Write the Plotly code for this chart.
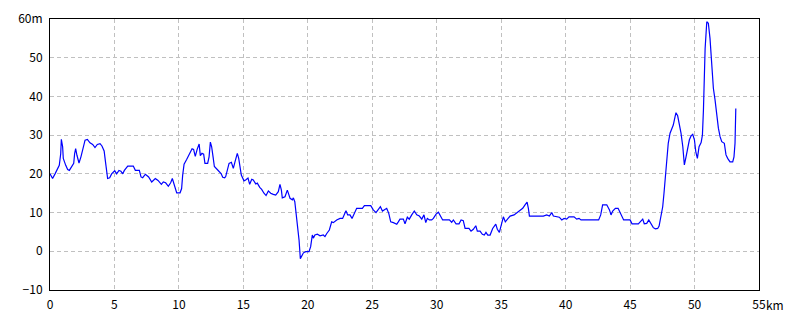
import plotly.graph_objects as go

# Distance (km) and elevation (m)
distance_km = [
    0.0, 0.2, 0.39, 0.65, 0.72, 0.83, 0.88, 0.98, 1.03, 1.22, 1.37, 1.5, 1.68, 1.84, 1.91, 1.99,
    2.09, 2.25, 2.4, 2.59, 2.72, 2.9, 3.1, 3.31, 3.49, 3.67, 3.88, 4.03, 4.2, 4.29, 4.4, 4.47,
    4.63, 4.78, 5.02, 5.17, 5.35, 5.5, 5.64, 5.77, 6.03, 6.46, 6.62, 6.93, 7.06, 7.19, 7.4, 7.65,
    7.89, 8.17, 8.38, 8.64, 8.79, 8.97, 9.18, 9.36, 9.49, 9.62, 9.83, 10.09, 10.21, 10.29, 10.4,
    10.6, 10.81, 11.02, 11.14, 11.27, 11.42, 11.57, 11.66, 11.79, 11.92, 12.02, 12.23, 12.34,
    12.44, 12.54, 12.65, 12.75, 13.01, 13.27, 13.4, 13.55, 13.63, 13.76, 13.89, 14.07, 14.22,
    14.35, 14.53, 14.64, 14.72, 14.84, 15.05, 15.18, 15.36, 15.49, 15.65, 15.77, 15.96, 16.08,
    16.27, 16.42, 16.6, 16.76, 16.94, 17.12, 17.32, 17.51, 17.71, 17.84, 17.95, 18.02, 18.23,
    18.41, 18.54, 18.62, 18.8, 18.88, 18.99, 19.06, 19.19, 19.32, 19.42, 19.53, 19.66, 19.84,
    20.09, 20.22, 20.3, 20.35, 20.43, 20.55, 20.74, 20.95, 21.2, 21.33, 21.47, 21.67, 21.85,
    21.98, 22.24, 22.5, 22.7, 22.81, 22.96, 23.09, 23.27, 23.43, 23.58, 23.79, 24.23, 24.39,
    24.88, 25.08, 25.29, 25.47, 25.63, 25.79, 25.94, 26.12, 26.28, 26.43, 26.64, 26.9, 27.02,
    27.15, 27.41, 27.54, 27.72, 27.87, 28.06, 28.26, 28.45, 28.65, 28.84, 29.01, 29.15, 29.27,
    29.43, 29.61, 29.74, 29.95, 30.13, 30.26, 30.46, 30.98, 31.16, 31.29, 31.5, 31.73, 31.89,
    32.06, 32.2, 32.5, 32.66, 32.84, 33.03, 33.15, 33.36, 33.54, 33.69, 33.82, 33.96, 34.14,
    34.34, 34.58, 34.7, 34.86, 35.04, 35.17, 35.32, 35.48, 35.69, 36.0, 36.21, 36.46, 36.67,
    36.85, 37.01, 37.11, 37.19, 38.27, 38.53, 38.74, 38.92, 39.05, 39.31, 39.51, 39.7, 39.88,
    40.08, 40.26, 40.65, 40.86, 41.04, 41.19, 42.56, 42.72, 42.87, 43.19, 43.4, 43.52, 43.65,
    43.86, 44.07, 44.3, 44.5, 45.0, 45.15, 45.64, 45.85, 45.98, 46.1, 46.29, 46.45, 46.63, 46.8,
    46.96, 47.14, 47.25, 47.39, 47.53, 47.63, 47.76, 47.86, 47.96, 48.1, 48.23, 48.35, 48.49,
    48.56, 48.69, 48.82, 48.95, 49.09, 49.21, 49.34, 49.47, 49.6, 49.73, 49.86, 49.99, 50.1,
    50.22, 50.35, 50.51, 50.61, 50.69, 50.82, 50.95, 51.07, 51.2, 51.33, 51.46, 51.59, 51.72,
    51.85, 51.98, 52.11, 52.31, 52.44, 52.57, 52.75, 52.96, 53.06, 53.14, 53.2,
]
elevation_m = [
    20.0, 18.8, 20.0, 21.8, 22.2, 25.2, 28.9, 27.0, 24.0, 22.2, 21.1, 20.9, 22.0, 22.7, 25.2, 26.5,
    24.8, 22.8, 24.4, 27.0, 28.7, 28.9, 28.0, 27.6, 26.8, 27.6, 27.8, 27.2, 25.9, 23.5, 20.0, 18.8,
    19.0, 20.0, 20.8, 20.0, 20.9, 20.7, 20.0, 20.9, 22.0, 22.0, 20.9, 20.9, 19.2, 19.0, 19.9, 19.2,
    17.9, 18.8, 18.3, 17.3, 17.9, 17.7, 16.8, 17.7, 18.8, 17.1, 15.1, 15.1, 16.2, 19.6, 22.5,
    23.7, 25.2, 26.5, 26.3, 24.5, 26.4, 27.7, 24.7, 25.3, 25.1, 22.7, 22.7, 24.4,
    28.2, 27.0, 24.4, 21.9, 21.0, 20.1, 19.1, 19.0, 19.3, 21.0, 22.7, 23.0, 21.4,
    23.1, 25.3, 24.0, 21.9, 19.7, 18.2, 18.4, 18.9, 17.3, 18.6, 18.4, 17.4, 17.6,
    16.5, 16.0, 15.0, 14.4, 15.6, 15.0, 14.7, 14.5, 15.4, 17.3, 15.8, 13.8, 14.1,
    15.8, 14.5, 13.7, 13.3, 13.8, 12.8, 10.7, 6.4, 2.9, -1.9, -1.0, -0.4, -0.1,
    -0.1, 1.2, 3.5, 4.2, 3.4, 4.2, 4.4, 4.0, 4.2, 3.8, 4.6, 5.5, 7.6,
    7.4, 8.1, 8.5, 8.5, 9.4, 10.5, 9.4, 9.4, 8.5, 9.8, 11.1, 11.1, 11.8,
    11.8, 10.7, 10.0, 10.7, 11.5, 10.4, 10.8, 11.1, 9.8, 7.6, 7.4, 7.0, 7.6,
    8.3, 8.3, 7.1, 8.8, 8.3, 9.4, 10.4, 9.4, 9.1, 8.3, 9.4, 7.4, 8.5,
    8.1, 8.1, 8.5, 9.6, 10.1, 9.4, 8.1, 8.1, 7.5, 8.1, 7.1, 7.1, 8.1,
    7.9, 5.9, 5.9, 5.2, 5.7, 6.6, 5.2, 5.2, 4.4, 4.2, 4.9, 4.2, 4.2,
    5.9, 7.0, 5.7, 4.9, 7.2, 8.9, 7.6, 8.3, 9.1, 9.4, 10.0, 10.7, 11.1,
    12.0, 12.7, 11.1, 9.1, 9.1, 9.4, 9.1, 10.0, 9.1, 8.9, 8.8, 8.1, 8.5,
    8.3, 8.9, 8.9, 8.3, 8.5, 8.1, 8.1, 9.4, 12.0, 12.0, 10.7, 9.4, 10.4,
    11.1, 11.1, 9.4, 8.1, 8.1, 7.1, 7.1, 7.8, 8.3, 7.1, 7.2, 8.1, 7.2, 6.1,
    5.8, 5.9, 6.5, 8.8, 11.5, 15.0, 21.0, 23.6, 27.9, 30.5, 31.8, 32.6, 34.8,
    35.8, 35.0, 33.1, 30.5, 27.0, 22.3, 24.4, 26.6, 28.8, 29.8, 30.2, 28.8, 25.7,
    24.0, 27.0, 28.1, 30.0, 36.5, 52.4, 59.3, 58.9, 55.0, 47.7, 42.1, 39.1, 35.2,
    31.8, 29.6, 28.3, 27.9, 24.9, 24.0, 23.1, 23.1, 24.4, 27.9, 36.9,
]

x_tick_vals = [0, 5, 10, 15, 20, 25, 30, 35, 40, 45, 50, 55]
x_tick_text = ["0", "5", "10", "15", "20", "25", "30", "35", "40", "45", "50", "55"]
y_tick_vals = [-10, 0, 10, 20, 30, 40, 50, 60]
y_tick_text = ["\u221210", "0", "10", "20", "30", "40", "50", "60m"]

FONT = "Noto Sans CJK JP"

fig = go.Figure()
fig.add_trace(go.Scatter(
    x=distance_km, y=elevation_m, mode="lines",
    line=dict(color="#0000ff", width=1.2),
    hoverinfo="skip", showlegend=False,
))

axis_common = dict(
    showgrid=True, gridcolor="#c0c0c0", gridwidth=1, griddash="4px,3px",
    showline=True, linecolor="black", linewidth=1, mirror=True,
    zeroline=False, ticks="outside", ticklen=4, tickcolor="rgba(0,0,0,0)",
    tickfont=dict(family=FONT, size=12, color="black"),
    automargin=False,
)

fig.update_layout(
    template="none",
    width=800, height=320,
    margin=dict(l=50, r=41, t=19, b=30, autoexpand=False),
    paper_bgcolor="white", plot_bgcolor="white",
    xaxis=dict(range=[0, 55], tickmode="array", tickvals=x_tick_vals, ticktext=x_tick_text, **axis_common),
    yaxis=dict(range=[-10, 60], tickmode="array", tickvals=y_tick_vals, ticktext=y_tick_text, **axis_common),
    annotations=[dict(
        x=55, y=0, xref="x", yref="paper", text="km", showarrow=False,
        xanchor="left", yanchor="top", xshift=5, yshift=-4,
        font=dict(family=FONT, size=12, color="black"),
    )],
)

fig.write_html("out.html")
